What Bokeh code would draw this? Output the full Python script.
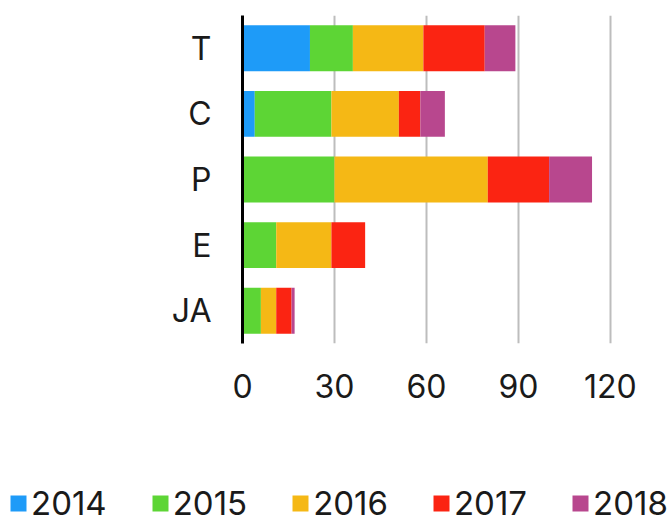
from bokeh.plotting import figure
from bokeh.models import ColumnDataSource, Range1d, FixedTicker, Legend
from bokeh.embed import file_html
from bokeh.resources import INLINE

categories = ["JA", "E", "P", "C", "T"]
years = ["2014", "2015", "2016", "2017", "2018"]
v2014 = [0, 0, 0, 4, 22]
v2015 = [6, 11, 30, 25, 14]
v2016 = [5, 18, 50, 22, 23]
v2017 = [5, 11, 20, 7, 20]
v2018 = [1, 0, 14, 8, 10]
x_ticks = [0, 30, 60, 90, 120]

colors = ["#1e9bf8", "#5dd535", "#f5b815", "#fb2412", "#b8478e"]
font = "Inter"
txt = "#1a1a1a"

source = ColumnDataSource(dict(cat=categories, **{
    "2014": v2014, "2015": v2015, "2016": v2016, "2017": v2017, "2018": v2018}))

p = figure(width=670, height=468, y_range=categories, x_range=Range1d(0, 121),
           output_backend="svg", toolbar_location=None,
           min_border_left=242, min_border_right=57, min_border_top=15, min_border_bottom=125)
p.outline_line_color = None

p.hbar_stack(years, y="cat", height=0.7, color=colors, source=source, line_color=None)

p.xaxis.ticker = FixedTicker(ticks=x_ticks)
p.xaxis.axis_line_color = None
p.xaxis.major_tick_line_color = None
p.xaxis.minor_tick_line_color = None
p.xaxis.major_label_text_font = font
p.xaxis.major_label_text_font_size = "32px"
p.xaxis.major_label_text_color = txt
p.xaxis.major_label_standoff = 24

p.yaxis.axis_line_color = "black"
p.yaxis.axis_line_width = 3
p.yaxis.major_tick_line_color = None
p.yaxis.minor_tick_line_color = None
p.yaxis.major_label_text_font = font
p.yaxis.major_label_text_font_size = "32px"
p.yaxis.major_label_text_color = txt
p.yaxis.major_label_standoff = 25

p.xgrid.grid_line_color = "#bdbdbd"
p.xgrid.grid_line_width = 2
p.ygrid.grid_line_color = None

# legend panel: a second figure whose frame spans the full width
lf = figure(width=670, height=55, x_range=Range1d(-2, -1), y_range=categories,
            output_backend="svg", toolbar_location=None,
            x_axis_type=None, y_axis_type=None,
            min_border_left=0, min_border_right=0, min_border_top=0, min_border_bottom=0)
lf.outline_line_color = None
lf.grid.grid_line_color = None
lr = lf.hbar_stack(years, y="cat", height=0.7, color=colors, source=source, line_color=None)

legend = Legend(items=[(y, [r]) for y, r in zip(years, lr)],
                orientation="horizontal", location=(8, 0),
                glyph_width=20, glyph_height=20, label_standoff=3, spacing=43,
                padding=0, margin=0, border_line_color=None, background_fill_alpha=0,
                label_text_font=font, label_text_font_size="33px", label_text_color=txt)
lf.add_layout(legend, "center")

open("out.html", "w").write(file_html([p, lf], INLINE))
